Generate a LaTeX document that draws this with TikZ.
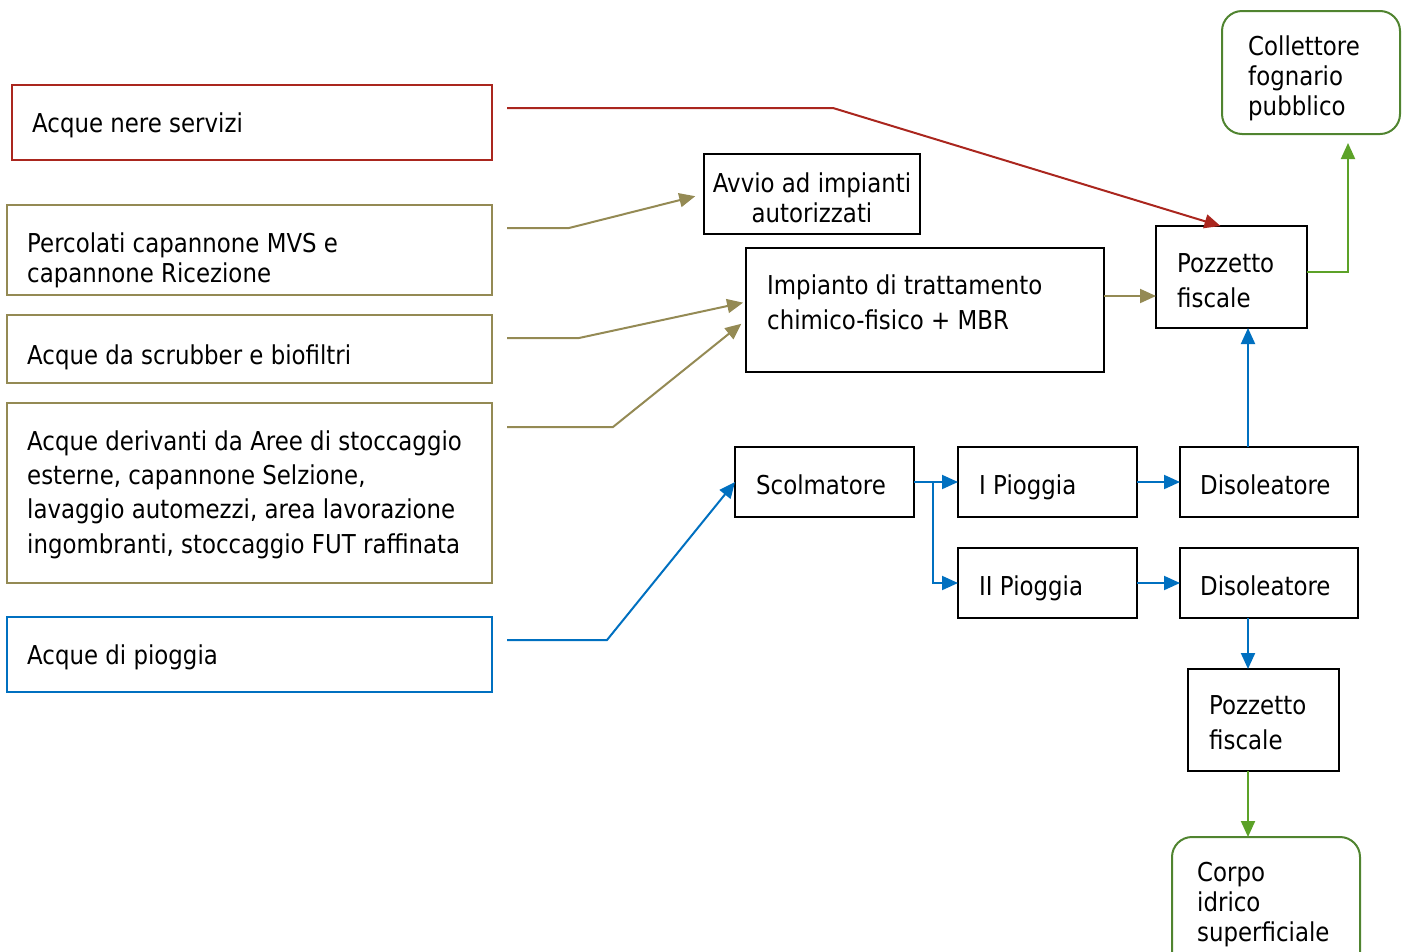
\documentclass[tikz,border=0pt]{standalone}
\usepackage{fontspec}
\setmainfont{DejaVu Sans}[FakeStretch=0.88]
\usetikzlibrary{arrows.meta}
\definecolor{rossoc}{RGB}{170,38,30}
\definecolor{olivac}{RGB}{148,138,84}
\definecolor{bluc}{RGB}{0,112,192}
\definecolor{verdeb}{RGB}{80,132,48}
\definecolor{verdel}{RGB}{92,162,40}
\tikzset{
  bx/.style n args={3}{draw=#1,line width=2pt,minimum width=#2,minimum height=#3,
    anchor=north west,inner sep=0pt,outer sep=0pt},
  rbx/.style n args={3}{bx={#1}{#2}{#3},rounded corners=20pt},
  txtw/.style={anchor=base west,inner sep=0pt,align=left,font=\fontsize{26}{34.3}\selectfont},
  txtn/.style={anchor=base west,inner sep=0pt,align=left,font=\fontsize{26}{30}\selectfont},
  txtc/.style={anchor=base,inner sep=0pt,align=center,font=\fontsize{26}{29.5}\selectfont},
  conn/.style={draw=#1,line width=2pt,-{Triangle[length=16pt,width=14pt]}},
}
\begin{document}
\begin{tikzpicture}[x=1pt,y=-1pt]
\useasboundingbox (0,0) rectangle (1407,951);
\clip (0,0) rectangle (1407,951);
% left source boxes
\node[bx={rossoc}{480pt}{75pt}] (acq) at (12,85) {};
\node[bx={olivac}{485pt}{90pt}] (perc) at (7,205) {};
\node[bx={olivac}{485pt}{68pt}] (scrub) at (7,315) {};
\node[bx={olivac}{485pt}{180pt}] (der) at (7,403) {};
\node[bx={bluc}{485pt}{75pt}] (piog) at (7,617) {};
\node[txtw] (tacq) at (32,132) {Acque nere servizi};
\node[txtn] (tperc) at (27,282) {Percolati capannone MVS e\\capannone Ricezione};
\node[txtw] (tscrub) at (27,364) {Acque da scrubber e biofiltri};
\node[txtw] (tder) at (27,553) {Acque derivanti da Aree di stoccaggio\\esterne, capannone Selzione,\\lavaggio automezzi, area lavorazione\\ingombranti, stoccaggio FUT raffinata};
\node[txtw] (tpiog) at (27,664) {Acque di pioggia};
% process boxes
\node[bx={black}{216pt}{80pt}] (avvio) at (704,154) {};
\node[txtc] (tavvio) at (812,222) {Avvio ad impianti\\autorizzati};
\node[bx={black}{358pt}{124pt}] (imp) at (746,248) {};
\node[txtw] (timp) at (767,329) {Impianto di trattamento\\chimico-fisico + MBR};
\node[bx={black}{151pt}{102pt}] (pf1) at (1156,226) {};
\node[txtw] (tpf1) at (1177,307) {Pozzetto\\fiscale};
\node[rbx={verdeb}{178pt}{123pt}] (coll) at (1222,11) {};
\node[txtn] (tcoll) at (1248,115) {Collettore\\fognario\\pubblico};
\node[bx={black}{179pt}{70pt}] (scol) at (735,447) {};
\node[txtw] (tscol) at (756,494) {Scolmatore};
\node[bx={black}{179pt}{70pt}] (ip1) at (958,447) {};
\node[txtw] (tip1) at (979,494) {I Pioggia};
\node[bx={black}{178pt}{70pt}] (dis1) at (1180,447) {};
\node[txtw] (tdis1) at (1200,494) {Disoleatore};
\node[bx={black}{179pt}{70pt}] (ip2) at (958,548) {};
\node[txtw] (tip2) at (979,595) {II Pioggia};
\node[bx={black}{178pt}{70pt}] (dis2) at (1180,548) {};
\node[txtw] (tdis2) at (1200,595) {Disoleatore};
\node[bx={black}{151pt}{102pt}] (pf2) at (1188,669) {};
\node[txtw] (tpf2) at (1209,749) {Pozzetto\\fiscale};
\node[rbx={verdeb}{188pt}{140pt}] (corpo) at (1172,837) {};
\node[txtn] (tcorpo) at (1197,941) {Corpo\\idrico\\superficiale};
% free ends and bends
\coordinate (a0) at (507,108);
\coordinate (a1) at (833,108);
\coordinate (b0) at (507,228);
\coordinate (b1) at (569,228);
\coordinate (c0) at (507,338);
\coordinate (c1) at (579,338);
\coordinate (d0) at (507,427);
\coordinate (d1) at (613,427);
\coordinate (e0) at (507,640);
\coordinate (e1) at (607,640);
\coordinate (br) at (933,482);
\coordinate (vx) at (1248,0);
\coordinate (gx) at (1348,134);
% connectors
\draw[conn=rossoc] (a0) -- (a1) -- ([xshift=-11pt]pf1.north);
\draw[conn=olivac,shorten >=9pt] (b0) -- (b1) -- (avvio.west);
\draw[conn=olivac,shorten >=3pt] (c0) -- (c1) -- ([yshift=8pt]imp.west);
\draw[conn=olivac,shorten >=6pt] (d0) -- (d1) -- ([yshift=-10pt]imp.west);
\draw[conn=olivac] ([yshift=14pt]imp.east) -- ([yshift=14pt]imp.east -| pf1.west);
\draw[conn=verdel,shorten >=9pt] ([yshift=5pt]pf1.east) -| (gx);
\draw[conn=bluc] (e0) -- (e1) -- (scol.west);
\draw[conn=bluc] (scol.east) -- (ip1.west);
\draw[conn=bluc] (br) |- (ip2.west);
\draw[conn=bluc] (ip1.east) -- (dis1.west);
\draw[conn=bluc] (ip2.east) -- (dis2.west);
\draw[conn=bluc] (dis1.north -| vx) -- (pf1.south -| vx);
\draw[conn=bluc] (dis2.south -| vx) -- (pf2.north -| vx);
\draw[conn=verdel] (pf2.south -| vx) -- (corpo.north -| vx);
\end{tikzpicture}
\end{document}
